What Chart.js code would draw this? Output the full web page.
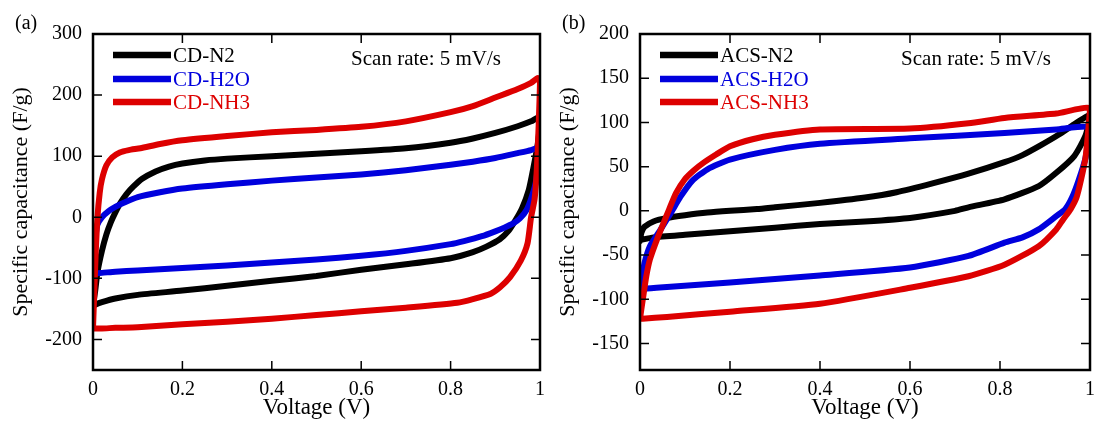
<!DOCTYPE html>
<html>
<head>
<meta charset="utf-8">
<script src="https://cdn.jsdelivr.net/npm/chart.js@4"></script>
<style>
html, body { margin: 0; padding: 0; background: #fff; }
body { width: 1094px; height: 427px; position: relative; overflow: hidden; }
.panel { position: absolute; top: 0; width: 547px; height: 427px; }
</style>
</head>
<body>
<div class="panel" style="left:0"><canvas id="chartA"></canvas></div>
<div class="panel" style="left:547px"><canvas id="chartB"></canvas></div>
<script>
// ---- data (voltage V, capacitance F/g), each loop closed ----
const voltTicks = [0, 0.2, 0.4, 0.6, 0.8, 1];
const capTicksA = [-200, -100, 0, 100, 200, 300];
const capTicksB = [-150, -100, -50, 0, 50, 100, 150, 200];
const namesA = ['CD-N2', 'CD-H2O', 'CD-NH3'];
const namesB = ['ACS-N2', 'ACS-H2O', 'ACS-NH3'];
const colors = ['#000000', '#0000dd', '#dd0000'];

const cdN2V = [0, 0.005, 0.01, 0.02, 0.03, 0.04, 0.05, 0.06, 0.075, 0.09, 0.11, 0.14, 0.17, 0.2, 0.25, 0.3, 0.4, 0.5, 0.6, 0.7, 0.8, 0.85, 0.9, 0.95, 0.98, 0.995, 1.0,
  0.995, 0.985, 0.975, 0.96, 0.945, 0.93, 0.91, 0.88, 0.85, 0.8, 0.7, 0.6, 0.5, 0.4, 0.3, 0.2, 0.1, 0.05, 0.02, 0.005, 0];
const cdN2C = [-145, -120, -90, -55, -28, -8, 8, 22, 38, 50, 63, 75, 83, 88, 93, 96, 100, 104, 108, 113, 122, 129, 138, 149, 157, 163, 160,
  120, 80, 45, 15, -5, -22, -36, -48, -57, -67, -77, -86, -96, -104, -112, -120, -127, -133, -139, -143, -145];

const cdH2OV = [0, 0.003, 0.006, 0.01, 0.02, 0.035, 0.05, 0.07, 0.1, 0.15, 0.2, 0.3, 0.4, 0.5, 0.6, 0.7, 0.8, 0.85, 0.9, 0.95, 0.98, 0.995, 1.0,
  0.995, 0.99, 0.98, 0.97, 0.955, 0.94, 0.92, 0.9, 0.87, 0.83, 0.8, 0.7, 0.6, 0.5, 0.4, 0.3, 0.2, 0.1, 0.05, 0.02, 0];
const cdH2OC = [-92, -60, -30, -12, 0, 10, 17, 24, 33, 41, 47, 54, 60, 65, 70, 77, 86, 91, 97, 105, 110, 114, 115,
  80, 55, 30, 12, -2, -10, -17, -23, -31, -39, -44, -55, -63, -69, -74, -79, -83, -87, -89, -91, -92];

const cdNH3V = [0, 0.003, 0.006, 0.01, 0.015, 0.02, 0.03, 0.043, 0.06, 0.08, 0.106, 0.15, 0.2, 0.3, 0.4, 0.5, 0.6, 0.7, 0.8, 0.85, 0.9, 0.95, 0.98, 0.995, 1.0,
  0.997, 0.993, 0.988, 0.98, 0.972, 0.957, 0.933, 0.91, 0.89, 0.85, 0.815, 0.7, 0.6, 0.5, 0.4, 0.3, 0.2, 0.1, 0.05, 0.02, 0];
const cdNH3C = [-182, -120, -60, 0, 40, 62, 85, 98, 106, 110, 113, 120, 126, 133, 139, 143, 148, 157, 172, 182, 196, 210, 220, 228, 226,
  150, 80, 30, 0, -43, -71, -98, -115, -125, -134, -140, -148, -154, -160, -166, -171, -175, -180, -181, -182, -182];

const acsN2V = [0, 0.003, 0.01, 0.03, 0.06, 0.1, 0.15, 0.2, 0.26, 0.3, 0.4, 0.5, 0.57, 0.65, 0.73, 0.81, 0.85, 0.89, 0.93, 0.965, 0.99, 1.0,
  0.99, 0.965, 0.925, 0.886, 0.81, 0.73, 0.7, 0.6, 0.5, 0.4, 0.3, 0.2, 0.1, 0.03, 0];
const acsN2C = [-34, -25, -18, -12, -8, -5, -2, 0, 2, 4, 9, 15, 21, 31, 42, 55, 63, 74, 86, 98, 106, 108,
  85, 62, 43, 28, 13, 4, 0, -8, -12, -15, -19, -23, -27, -30, -33];

const acsH2OV = [0, 0.005, 0.01, 0.022, 0.046, 0.069, 0.09, 0.116, 0.15, 0.2, 0.3, 0.4, 0.6, 0.81, 0.925, 1.0,
  0.99, 0.975, 0.96, 0.945, 0.925, 0.886, 0.85, 0.81, 0.73, 0.6, 0.4, 0.2, 0.06, 0.01, 0];
const acsH2OC = [-90, -75, -59, -40, -21, -2, 16, 34, 47, 58, 69, 76, 82, 88, 92, 94,
  60, 35, 15, 2, -6, -21, -30, -36, -51, -64, -73, -81, -86, -88, -90];

const acsNH3V = [0, 0.006, 0.014, 0.022, 0.038, 0.053, 0.065, 0.08, 0.1, 0.12, 0.14, 0.17, 0.2, 0.25, 0.3, 0.4, 0.6, 0.73, 0.81, 0.925, 1.0,
  0.995, 0.99, 0.98, 0.97, 0.957, 0.94, 0.925, 0.886, 0.81, 0.73, 0.6, 0.4, 0.2, 0.06, 0.006, 0];
const acsNH3C = [-122, -101, -74, -55, -32, -13, 2, 20, 36, 46, 54, 64, 73, 81, 86, 92, 93, 99, 105, 110, 116,
  85, 60, 35, 15, 2, -10, -21, -40, -61, -74, -87, -105, -114, -120, -122, -122];

const FONT = '"Liberation Serif", "Times New Roman", serif';

function toPoints(v, c) {
  return v.map((x, i) => ({ x: x, y: c[i] }));
}

// frame, inward ticks on all four sides, legend and notes
const cvDecor = {
  id: 'cvDecor',
  afterDraw(chart, args, opts) {
    const ctx = chart.ctx;
    const a = chart.chartArea;
    const xs = chart.scales.x, ys = chart.scales.y;
    const tl = 9;
    ctx.save();
    ctx.strokeStyle = '#000';
    ctx.lineWidth = 1.5;
    ctx.beginPath();
    voltTicks.forEach(v => {
      const px = xs.getPixelForValue(v);
      if (v === xs.min || v === xs.max) return;
      ctx.moveTo(px, a.bottom); ctx.lineTo(px, a.bottom - tl);
      ctx.moveTo(px, a.top); ctx.lineTo(px, a.top + tl);
    });
    opts.yTicks.forEach(v => {
      const py = ys.getPixelForValue(v);
      if (v === ys.min || v === ys.max) return;
      ctx.moveTo(a.left, py); ctx.lineTo(a.left + tl, py);
      ctx.moveTo(a.right, py); ctx.lineTo(a.right - tl, py);
    });
    ctx.stroke();
    ctx.lineWidth = 2.5;
    ctx.strokeRect(a.left, a.top, a.right - a.left, a.bottom - a.top);

    // legend
    ctx.font = '21px ' + FONT;
    ctx.textBaseline = 'middle';
    ctx.textAlign = 'left';
    const rows = [21, 45, 68];
    opts.names.forEach((n, i) => {
      const y = a.top + rows[i];
      ctx.strokeStyle = colors[i];
      ctx.lineWidth = 6.5;
      ctx.beginPath();
      ctx.moveTo(a.left + 20, y);
      ctx.lineTo(a.left + 78, y);
      ctx.stroke();
      ctx.fillStyle = colors[i];
      ctx.fillText(n, a.left + 80, y + 1);
    });
    ctx.fillStyle = '#000';
    ctx.textAlign = 'right';
    ctx.fillText('Scan rate: 5 mV/s', a.right - 39, a.top + 25);
    ctx.textAlign = 'left';
    ctx.font = '20px ' + FONT;
    ctx.fillText(opts.panel, 15, 24);
    ctx.restore();
  }
};

function makeChart(id, names, series, yMin, yMax, yTicks, panel, padRight) {
  const datasets = series.map((s, i) => ({
    label: names[i],
    data: toPoints(s[0], s[1]),
    borderColor: colors[i],
    backgroundColor: colors[i],
    borderWidth: 6,
    pointRadius: 0,
    showLine: true,
    tension: 0.2,
    borderJoinStyle: 'round',
    borderCapStyle: 'round',
    order: 3 - i
  }));
  return new Chart(document.getElementById(id), {
    type: 'scatter',
    data: { datasets: datasets },
    plugins: [cvDecor],
    options: {
      responsive: true,
      maintainAspectRatio: false,
      animation: false,
      layout: { autoPadding: false, padding: { top: 34, right: padRight, left: 0, bottom: 0 } },
      plugins: {
        legend: { display: false },
        tooltip: { enabled: false },
        cvDecor: { names: names, yTicks: yTicks, panel: panel }
      },
      scales: {
        x: {
          type: 'linear',
          min: 0,
          max: 1,
          afterBuildTicks: s => { s.ticks = voltTicks.map(v => ({ value: v })); },
          afterFit: s => { s.height = 57; s.paddingLeft = 0; s.paddingRight = 0; },
          grid: { display: false, drawTicks: false },
          border: { display: false },
          ticks: { color: '#000', font: { family: FONT, size: 20 }, padding: 8, maxRotation: 0,
            callback: v => String(Math.round(v * 10) / 10) },
          title: { display: true, text: 'Voltage (V)', color: '#000', font: { family: FONT, size: 23 }, padding: { top: 0, bottom: 5 } }
        },
        y: {
          type: 'linear',
          min: yMin,
          max: yMax,
          afterBuildTicks: s => { s.ticks = yTicks.map(v => ({ value: v })); },
          afterFit: s => { s.width = 93; s.paddingTop = 0; s.paddingBottom = 0; },
          grid: { display: false, drawTicks: false },
          border: { display: false },
          ticks: { color: '#000', font: { family: FONT, size: 20 }, padding: 11 },
          title: { display: true, text: 'Specific capacitance (F/g)', color: '#000', font: { family: FONT, size: 22 }, padding: { top: 8, bottom: 0 } }
        }
      }
    }
  });
}

makeChart('chartA', namesA, [[cdN2V, cdN2C], [cdH2OV, cdH2OC], [cdNH3V, cdNH3C]], -250, 300, capTicksA, '(a)', 7);
makeChart('chartB', namesB, [[acsN2V, acsN2C], [acsH2OV, acsH2OC], [acsNH3V, acsNH3C]], -180, 200, capTicksB, '(b)', 4);
</script>
</body>
</html>
